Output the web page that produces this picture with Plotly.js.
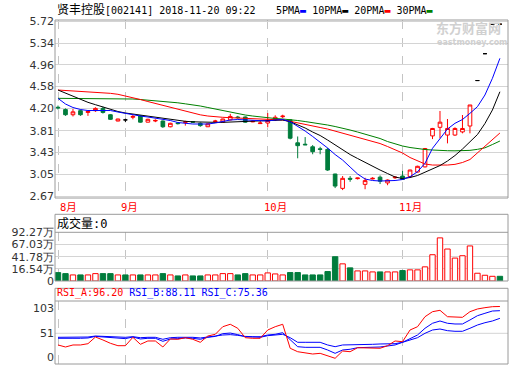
<!DOCTYPE html>
<html><head><meta charset="utf-8">
<script src="https://cdn.plot.ly/plotly-3.0.1.min.js"></script>
<style>html,body{margin:0;padding:0;background:#fff;}#chart{width:520px;height:365px;}</style>
</head><body><div id="chart"></div>
<script>
// ---------------- DATA ----------------
const dates = [
 '2018-08-21','2018-08-22','2018-08-23','2018-08-24','2018-08-27','2018-08-28','2018-08-29','2018-08-30','2018-08-31',
 '2018-09-03','2018-09-04','2018-09-05','2018-09-06','2018-09-07','2018-09-10','2018-09-11','2018-09-12','2018-09-13','2018-09-14',
 '2018-09-17','2018-09-18','2018-09-19','2018-09-20','2018-09-21','2018-09-25','2018-09-26','2018-09-27','2018-09-28',
 '2018-10-08','2018-10-09','2018-10-10','2018-10-11','2018-10-12','2018-10-15','2018-10-16','2018-10-17','2018-10-18','2018-10-19',
 '2018-10-22','2018-10-23','2018-10-24','2018-10-25','2018-10-26','2018-10-29','2018-10-30','2018-10-31',
 '2018-11-01','2018-11-02','2018-11-05','2018-11-06','2018-11-07','2018-11-08','2018-11-09','2018-11-12','2018-11-13','2018-11-14',
 '2018-11-15','2018-11-16','2018-11-19','2018-11-20'];
const open  = [4.22,4.18,4.09,4.16,4.13,4.16,4.20,4.09,3.98,4.00, 4.045,4.07,3.96,3.98,3.98,3.88,3.945,3.955,3.97,3.94,
               3.88,3.97,3.96,4.00,4.05,4.05,3.965,3.935,3.945,4.00, 4.055,4.00,3.60,3.575,3.53,3.495,3.485,3.055,2.805,2.98,
               2.975,2.875,2.97,3.00,2.90,2.99,3.02,3.01,3.09,3.18, 3.72,3.87,3.735,3.735,3.79,3.893,4.686,5.155,5.67,5.67];
const high  = [4.25,4.20,4.19,4.18,4.16,4.22,4.23,4.10,4.02,4.02, 4.09,4.08,4.02,4.01,3.99,3.95,3.96,3.985,3.98,3.955,
               3.94,4.00,4.02,4.105,4.07,4.06,3.99,3.98,4.12,4.08, 4.09,4.01,3.71,3.70,3.56,3.53,3.51,3.06,3.02,3.02,
               2.99,2.99,3.00,3.03,2.96,3.02,3.11,3.13,3.20,3.51, 3.86,4.155,4.015,3.87,4.085,4.26,4.686,5.155,5.67,5.67];
const low   = [4.18,4.07,4.06,4.07,4.07,4.14,4.11,4.00,3.975,3.96, 4.01,3.95,3.955,3.96,3.86,3.87,3.92,3.90,3.95,3.88,
               3.875,3.95,3.955,3.99,4.02,3.95,3.96,3.935,3.87,3.98, 4.03,3.66,3.33,3.56,3.40,3.40,3.11,2.81,2.775,2.92,
               2.96,2.79,2.96,2.88,2.86,2.97,2.955,3.00,3.08,3.17, 3.665,3.68,3.59,3.72,3.765,3.765,4.686,5.155,5.67,5.67];
const close = [4.21,4.09,4.14,4.09,4.145,4.20,4.13,4.01,4.015,4.00, 4.06,3.96,4.01,3.99,3.88,3.94,3.935,3.965,3.96,3.90,
               3.93,3.98,4.015,4.06,4.04,3.96,3.975,3.945,3.99,4.045, 4.065,3.68,3.55,3.565,3.445,3.485,3.125,2.845,2.98,2.965,
               2.985,2.94,2.98,2.93,2.95,3.00,2.96,3.125,3.19,3.50, 3.85,3.96,3.85,3.85,3.85,4.26,4.686,5.155,5.67,5.67];
// volume, 万股
const volume = [15.9,14.0,11.5,11.5,11.5,14.0,14.0,14.0,11.5,11.5, 11.5,11.5,11.5,11.5,14.0,11.5,9.6,11.5,9.6,9.6,
                11.5,11.5,14.0,14.0,11.5,14.0,11.5,11.5,15.3,13.4, 11.5,16.0,16.0,11.5,11.5,11.5,17.9,46.0,32.5,24.9,
                19.1,19.1,17.2,17.2,17.2,17.2,19.8,21.1,21.1,26.8, 49.8,81.7,60.6,43.4,47.9,66.4,14.7,10.9,8.9,8.9];
const ma5  = [4.376,4.277,4.216,4.181,4.163,4.163,4.172,4.163,4.137,4.111, 4.085,4.067,4.050,4.032,4.015,3.989,3.954,3.936,3.928,3.928,
              3.928,3.945,3.971,3.998,4.006,4.001,3.989,3.980,3.980,3.998, 4.006,3.968,3.893,3.805,3.710,3.614,3.509,3.395,3.299,3.177,
              3.055,2.968,2.942,2.933,2.933,2.942,2.959,3.008,3.095,3.242, 3.504,3.678,3.840,3.940,4.006,4.114,4.230,4.434,4.725,5.074];
const ma10 = [4.521,4.469,4.411,4.352,4.306,4.265,4.224,4.181,4.146,4.120, 4.102,4.085,4.067,4.050,4.024,4.006,3.989,3.975,3.966,3.959,
              3.957,3.957,3.957,3.963,3.971,3.980,3.985,3.989,3.992,3.998, 3.998,3.968,3.919,3.858,3.788,3.727,3.648,3.561,3.474,3.395,
              3.326,3.256,3.186,3.125,3.064,3.003,2.977,2.994,3.029,3.090, 3.142,3.203,3.282,3.378,3.491,3.614,3.744,3.936,4.172,4.491];
const ma20 = [4.521,4.512,4.504,4.498,4.491,4.486,4.477,4.463,4.446,4.420, 4.390,4.355,4.320,4.285,4.254,4.224,4.181,4.146,4.114,4.088,
              4.067,4.053,4.045,4.038,4.032,4.027,4.022,4.015,4.010,4.004, 3.998,3.975,3.945,3.919,3.893,3.867,3.840,3.805,3.771,3.736,
              3.701,3.666,3.631,3.587,3.535,3.474,3.422,3.343,3.282,3.230, 3.212,3.207,3.212,3.224,3.256,3.308,3.422,3.535,3.648,3.771];
const ma30 = [4.376,4.376,4.376,4.376,4.376,4.376,4.376,4.374,4.372,4.369, 4.364,4.355,4.346,4.334,4.324,4.312,4.298,4.280,4.263,4.242,
              4.216,4.189,4.160,4.132,4.106,4.085,4.067,4.050,4.036,4.024, 4.015,4.006,3.989,3.971,3.954,3.933,3.910,3.884,3.858,3.823,
              3.788,3.753,3.718,3.675,3.622,3.579,3.544,3.518,3.497,3.483, 3.474,3.465,3.462,3.460,3.460,3.468,3.486,3.512,3.570,3.631];
const rsiA = [26.5,22.3,26.5,26.5,29.2,43.2,37.0,30.0,25.0,25.0, 42.6,27.9,34.9,34.9,22.3,39.1,38.4,41.8,38.4,32.1,
              45.3,48.9,64.8,69.9,61.5,41.8,40.5,40.5,57.9,64.8, 69.9,19.6,12.4,10.4,7.6,9.0,4.0,-1.4,13.9,12.4,
              20.8,20.8,20.8,19.6,25.0,34.9,33.4,57.9,64.8,85.8, 96.3,99.2,85.8,84.5,84.5,96.3,102.0,104.7,106.8,107.2];
const rsiB = [40.5,39.8,40.5,40.5,41.2,44.5,43.2,41.2,39.8,39.8, 43.2,39.1,40.5,40.5,34.2,39.1,39.8,41.2,40.5,38.4,
              42.6,44.5,50.2,51.5,48.2,43.9,43.2,43.9,47.4,48.9, 52.3,37.0,22.9,21.6,21.6,21.6,16.0,9.0,16.0,17.5,
              20.8,20.8,20.8,22.3,24.4,26.5,32.1,40.5,47.4,61.5, 72.0,76.8,72.0,70.5,70.5,78.9,87.9,92.9,97.7,98.4];
const rsiC = [42.6,42.6,42.6,42.6,43.2,45.3,44.5,43.2,42.6,42.6, 43.9,41.8,42.6,42.6,38.4,41.8,42.6,43.2,42.6,41.2,
              43.9,45.3,47.4,48.2,46.7,44.5,43.9,42.6,46.0,47.4, 48.9,41.8,32.1,32.1,32.1,32.1,26.5,22.9,26.5,26.5,
              27.9,27.9,27.9,28.6,28.6,29.2,32.1,37.0,41.8,51.0, 57.9,60.0,56.5,55.2,55.2,61.5,68.4,73.2,76.8,82.4];
const priceTicks = [2.67,3.05,3.43,3.81,4.20,4.58,4.96,5.34,5.72];
const priceTickText = ['2.67','3.05','3.43','3.81','4.20','4.58','4.96','5.34','5.72'];
// volume scale labels as printed (evenly spaced on the picture, bottom label "0")
const volLabelMin = -8.7;
const volTicks = [volLabelMin,16.54,41.78,67.03,92.27];
const volTickText = ['0','16.54万','41.78万','67.03万','92.27万'];
const volMax = 92.27;
const rsiTicks = [0,51,103];
const rsiTickText = ['0','51','103'];
const monthTicks = ['2018-08-21','2018-09-03','2018-10-08','2018-11-01'];
const monthLabels = ['8月','9月','10月','11月'];
const maNames = ['5PMA','10PMA','20PMA','30PMA'];
const rsiNames = ['RSI_A','RSI_B','RSI_C'];
const rsiLast = ['96.20','88.11','75.36'];
const stockTitle = '贤丰控股';
const stockInfo = '[002141] 2018-11-20 09:22';
const volumeTitle = '成交量:0';

// ---------------- STYLE ----------------
const RED='#ff0000', GREEN='#007c3c', BLUE='#0000ff', BLACK='#000000', MAGREEN='#008000';
const maColors=[BLUE,BLACK,RED,MAGREEN];
const rsiColors=[RED,BLUE,BLUE];
const FRAME='#9a9a9a', GRID='#d4d4d4';
const W=520,H=365,M={l:55,r:12,t:20,b:1};
const px=x=>(x-M.l)/(W-M.l-M.r);
const py=y=>(H-M.b-y)/(H-M.t-M.b);
const MONO='DejaVu Sans Mono, Noto Sans CJK SC';

const pick=(arr,idx)=>idx.map(i=>arr[i]);
const bodyIdx=[],flatIdx=[],upIdx=[],dnIdx=[];
dates.forEach((d,i)=>{
  (open[i]===close[i]?flatIdx:bodyIdx).push(i);
  const up = close[i]>open[i] || (close[i]===open[i] && i>0 && close[i]>close[i-1]);
  (up?upIdx:dnIdx).push(i);
});

const traces=[];
traces.push({type:'candlestick',x:pick(dates,bodyIdx),open:pick(open,bodyIdx),high:pick(high,bodyIdx),
  low:pick(low,bodyIdx),close:pick(close,bodyIdx),xaxis:'x',yaxis:'y',whiskerwidth:0,
  increasing:{line:{color:RED,width:1},fillcolor:'#ffffff'},
  decreasing:{line:{color:GREEN,width:1},fillcolor:GREEN},hoverinfo:'skip'});
traces.push({type:'candlestick',x:pick(dates,flatIdx),open:pick(open,flatIdx),high:pick(high,flatIdx),
  low:pick(low,flatIdx),close:pick(close,flatIdx),xaxis:'x',yaxis:'y',whiskerwidth:0,
  increasing:{line:{color:BLACK,width:1},fillcolor:BLACK},
  decreasing:{line:{color:BLACK,width:1},fillcolor:BLACK},hoverinfo:'skip'});
[ma30,ma20,ma10,ma5].forEach((m,k)=>{
  traces.push({type:'scatter',mode:'lines',x:dates,y:m,xaxis:'x',yaxis:'y',
    line:{color:maColors[3-k],width:1},hoverinfo:'skip'});
});
traces.push({type:'bar',x:pick(dates,upIdx),y:pick(volume,upIdx),xaxis:'x2',yaxis:'y2',width:0.72,
  marker:{color:'#ffffff',line:{color:RED,width:1}},hoverinfo:'skip'});
traces.push({type:'bar',x:pick(dates,dnIdx),y:pick(volume,dnIdx),xaxis:'x2',yaxis:'y2',width:0.72,
  marker:{color:GREEN,line:{color:GREEN,width:1}},hoverinfo:'skip'});
[rsiC,rsiB,rsiA].forEach((r,k)=>{
  traces.push({type:'scatter',mode:'lines',x:dates,y:r,xaxis:'x3',yaxis:'y3',
    line:{color:rsiColors[2-k],width:1},hoverinfo:'skip'});
});

const xAxis=(anchor)=>({type:'category',categoryorder:'array',categoryarray:dates,range:[-0.4,60.08],
  tickvals:monthTicks,showticklabels:false,ticks:'',showgrid:true,gridcolor:'#c4c4c4',griddash:'dash',gridwidth:1,
  zeroline:false,showline:false,anchor:anchor,fixedrange:true,rangeslider:{visible:false}});
const tickFont={family:'DejaVu Sans',size:11,color:'#333333'};
const yBase={ticks:'',zeroline:false,showline:false,fixedrange:true,tickfont:tickFont,gridcolor:GRID,gridwidth:1};
const volDomain=[py(281),py(232.3)];

const layout={
  width:W,height:H,margin:M,paper_bgcolor:'#fff',plot_bgcolor:'rgba(0,0,0,0)',showlegend:false,
  hovermode:false,dragmode:false,barmode:'overlay',
  xaxis:xAxis('y'),xaxis2:xAxis('y2'),xaxis3:xAxis('y3'),
  yaxis:Object.assign({},yBase,{domain:[py(198),1],range:[2.6368,5.7427],tickvals:priceTicks,ticktext:priceTickText,showgrid:true}),
  yaxis2:Object.assign({},yBase,{domain:volDomain,range:[0,volMax],showticklabels:false,showgrid:false}),
  yaxis4:Object.assign({},yBase,{overlaying:'y2',side:'left',anchor:'x2',range:[volLabelMin,volMax],tickvals:volTicks,ticktext:volTickText,showgrid:true}),
  yaxis3:Object.assign({},yBase,{domain:[0,py(301)],range:[-13.36,118.7],tickvals:rsiTicks,ticktext:rsiTickText,showgrid:false}),
  shapes:[
    {type:'line',xref:'paper',yref:'y3',x0:0,x1:1,y0:51,y1:51,line:{color:GRID,width:1},layer:'below'},
    {type:'rect',xref:'paper',yref:'paper',x0:0,x1:1,y0:py(198),y1:1,line:{color:FRAME,width:1}},
    {type:'rect',xref:'paper',yref:'paper',x0:0,x1:1,y0:py(281),y1:py(214.3),line:{color:FRAME,width:1}},
    {type:'line',xref:'paper',yref:'paper',x0:0,x1:1,y0:py(232.3),y1:py(232.3),line:{color:FRAME,width:1}},
    {type:'rect',xref:'paper',yref:'paper',x0:0,x1:1,y0:0,y1:py(288.3),line:{color:FRAME,width:1}},
    {type:'line',xref:'paper',yref:'paper',x0:0,x1:1,y0:py(301),y1:py(301),line:{color:FRAME,width:1}}
  ],
  annotations:[]
};
// invisible trace so the volume label axis is drawn
traces.unshift({type:'scatter',mode:'markers',x:[dates[0]],y:[volLabelMin],xaxis:'x2',yaxis:'y4',
  marker:{opacity:0,size:1},hoverinfo:'skip'});

const A=layout.annotations;
A.push({xref:'paper',yref:'paper',x:px(55),y:py(10),xanchor:'left',yanchor:'middle',showarrow:false,
  text:'<span style="font-size:12px">'+stockTitle+'</span>'+stockInfo,font:{family:MONO,size:10,color:'#000'}});
A.push({xref:'paper',yref:'paper',x:px(274),y:py(10.5),xanchor:'left',yanchor:'middle',showarrow:false,
  text:maNames.map((n,k)=>n+'<span style="color:'+maColors[k]+'">▬</span>').join(' '),font:{family:MONO,size:10,color:'#000'}});
A.push({xref:'paper',yref:'paper',x:px(55),y:py(224),xanchor:'left',yanchor:'middle',showarrow:false,
  text:volumeTitle,font:{family:MONO,size:12,color:'#000'}});
A.push({xref:'paper',yref:'paper',x:px(55),y:py(293),xanchor:'left',yanchor:'middle',showarrow:false,
  text:rsiNames.map((n,k)=>'<span style="color:'+rsiColors[k]+'">'+n+':'+rsiLast[k]+'</span>').join(' '),font:{family:MONO,size:10,color:'#000'}});
monthTicks.forEach((m,k)=>{
  A.push({xref:'x',yref:'paper',x:m,y:py(198),xanchor:'left',yanchor:'top',xshift:k===0?0:-6,yshift:-1,showarrow:false,
    text:monthLabels[k],font:{family:MONO,size:10.5,color:RED}});
});
A.push({xref:'paper',yref:'paper',x:px(434),y:py(27.5),xanchor:'left',yanchor:'middle',showarrow:false,
  text:'<b>东方财富网</b>',font:{family:'Noto Sans CJK SC',size:13,color:'#d0d0d0'}});
A.push({xref:'paper',yref:'paper',x:px(435),y:py(42.5),xanchor:'left',yanchor:'middle',showarrow:false,
  text:'<b>eastmoney.com</b>',font:{family:'DejaVu Sans',size:8,color:'#d0d0d0'}});

Plotly.newPlot('chart',traces,layout,{staticPlot:true,displayModeBar:false});
</script></body></html>
